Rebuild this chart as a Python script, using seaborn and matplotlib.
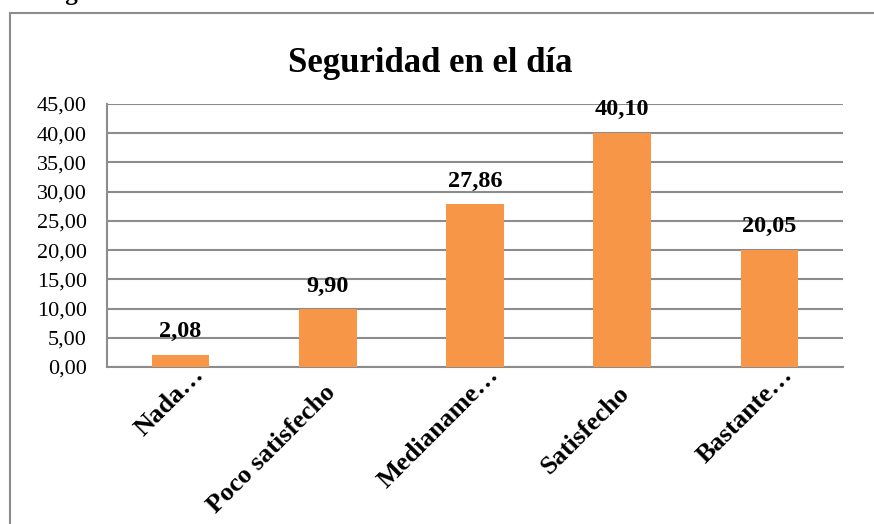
"""
Seguridad en el día - bar chart recreation
"""

import matplotlib.pyplot as plt
import matplotlib.transforms as mtransforms
import matplotlib.patches as mpatches
import seaborn as sns
import pandas as pd

plt.switch_backend('Agg')

# Data
categories = ['Nada…', 'Poco satisfecho', 'Medianame…', 'Satisfecho', 'Bastante…']
values = [2.08, 9.90, 27.86, 40.10, 20.05]
y_ticks = [0, 5, 10, 15, 20, 25, 30, 35, 40, 45]
title = 'Seguridad en el día'

BAR_COLOR = '#F79646'
GRID_COLOR = '#8c8c8c'

sns.set_style('white')
plt.rcParams['font.family'] = ['Liberation Serif', 'DejaVu Serif']
plt.rcParams['text.color'] = 'black'
plt.rcParams['xtick.color'] = 'black'
plt.rcParams['ytick.color'] = 'black'

W, H = 874, 524
fig = plt.figure(figsize=(W / 100, H / 100), dpi=100)
ax = fig.add_axes([107 / W, (H - 367) / H, 736 / W, 263 / H])

df = pd.DataFrame({'cat': categories, 'val': values})
sns.barplot(data=df, x='cat', y='val', color=BAR_COLOR, width=0.39,
            saturation=1, linewidth=0, ax=ax, zorder=3)

fmt = lambda v: f'{v:.2f}'.replace('.', ',')

# y axis
ax.set_ylim(0, 45)
ax.set_yticks(y_ticks)
ax.set_yticklabels([fmt(t) for t in y_ticks], fontsize=16)
ax.yaxis.grid(True, color=GRID_COLOR, linewidth=1.5, zorder=0)
ax.set_axisbelow(True)
ax.set_xlabel('')
ax.set_ylabel('')

for side in ['top', 'right']:
    ax.spines[side].set_visible(False)
for side in ['left', 'bottom']:
    ax.spines[side].set_color(GRID_COLOR)
    ax.spines[side].set_linewidth(1.5)

ax.tick_params(axis='y', length=0, pad=14.5)
ax.tick_params(axis='x', length=0, pad=16)

# rotated category labels
ax.set_xticks(range(len(categories)))
ax.set_xticklabels(categories, rotation=45, ha='right', va='center',
                   rotation_mode='anchor', fontsize=19, fontweight='bold')
for lbl in ax.get_xticklabels():
    if lbl.get_text().endswith('…'):
        dx, dy = 20, 18
    else:
        dx, dy = 4, 0
    shift = mtransforms.ScaledTranslation(dx / 100, dy / 100, fig.dpi_scale_trans)
    lbl.set_transform(lbl.get_transform() + shift)

# value labels
ax.bar_label(ax.containers[0], labels=[fmt(v) for v in values],
             padding=9, fontsize=17.5, fontweight='bold')

# title
fig.text(430 / W, 1 - 72 / H, title, ha='center', va='baseline',
         fontsize=25, fontweight='bold')

# outer chart border (cut off by the image edge)
border = mpatches.Rectangle((9.5 / W, -0.1), 2, 1 - 12.5 / H + 0.1,
                            transform=fig.transFigure, fill=False,
                            edgecolor=GRID_COLOR, linewidth=1.5)
fig.patches.append(border)

# caption above, mostly outside the image
fig.text(44 / W, 1.0, 'Figura', ha='left', va='baseline',
         fontsize=18, fontweight='bold')

fig.savefig('out.png', dpi=100)
plt.close(fig)
